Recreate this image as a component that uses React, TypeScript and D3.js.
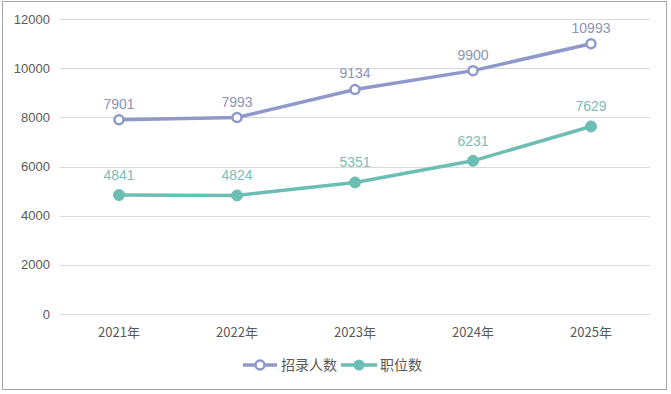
import React from "react";
import * as d3 from "d3";

const categories = ["2021年", "2022年", "2023年", "2024年", "2025年"];
const recruitCount = [7901, 7993, 9134, 9900, 10993];
const positionCount = [4841, 4824, 5351, 6231, 7629];
const yTicks = [0, 2000, 4000, 6000, 8000, 10000, 12000];
const seriesNames = ["招录人数", "职位数"];

const W = 671;
const H = 394;
const FONT = "'Liberation Sans', 'Noto Sans CJK SC', sans-serif";
const CJK = "'Noto Sans CJK SC', 'Liberation Sans', sans-serif";

export default function App() {
  const x = d3.scaleBand<string>().domain(categories).range([60, 650]);
  const y = d3.scaleLinear().domain([0, 12000]).range([314, 19]);
  const cx = (c: string) => (x(c) as number) + x.bandwidth() / 2;
  const line = d3
    .line<number>()
    .x((_, i) => cx(categories[i]))
    .y((v) => y(v));

  const purple = "#8e98c9";
  const teal = "#6cbdb3";
  const purpleLabel = "#8d93b3";
  const tealLabel = "#7bbcb6";

  return (
    <svg
      width={W}
      height={H}
      style={{ position: "absolute", left: 0, top: 0, background: "#fff" }}
    >
      <rect x={2.5} y={1.5} width={664} height={388} fill="#fff" stroke="#a6a6a6" strokeWidth={1} />
      {yTicks.map((t) => (
        <g key={t}>
          <line x1={60} x2={650} y1={Math.round(y(t)) + 0.5} y2={Math.round(y(t)) + 0.5} stroke="#d9d9d9" strokeWidth={1} />
          <text x={50} y={y(t) + 4.5} textAnchor="end" fontFamily={FONT} fontSize={13} fill="#595959">
            {t}
          </text>
        </g>
      ))}
      {categories.map((c) => (
        <text key={c} x={cx(c)} y={337} textAnchor="middle" fontFamily={CJK} fontSize={13} fill="#595959">
          {c}
        </text>
      ))}
      <path d={line(recruitCount) || ""} fill="none" stroke={purple} strokeWidth={3.5} strokeLinejoin="round" />
      <path d={line(positionCount) || ""} fill="none" stroke={teal} strokeWidth={3.5} strokeLinejoin="round" />
      {recruitCount.map((v, i) => (
        <g key={"r" + i}>
          <circle cx={cx(categories[i])} cy={y(v)} r={4.5} fill="#fff" stroke={purple} strokeWidth={2.5} />
          <text x={cx(categories[i])} y={y(v) - 11} textAnchor="middle" fontFamily={FONT} fontSize={14} fill={purpleLabel}>
            {v}
          </text>
        </g>
      ))}
      {positionCount.map((v, i) => (
        <g key={"p" + i}>
          <circle cx={cx(categories[i])} cy={y(v)} r={5.5} fill={teal} stroke={teal} strokeWidth={1} />
          <text x={cx(categories[i])} y={y(v) - 15} textAnchor="middle" fontFamily={FONT} fontSize={14} fill={tealLabel}>
            {v}
          </text>
        </g>
      ))}
      {/* legend */}
      <g>
        <line x1={243} x2={277} y1={365} y2={365} stroke={purple} strokeWidth={3.5} />
        <circle cx={260} cy={365} r={4.5} fill="#fff" stroke={purple} strokeWidth={2.5} />
        <text x={281} y={370} fontFamily={CJK} fontSize={14} fill="#595959">
          {seriesNames[0]}
        </text>
        <line x1={341} x2={377} y1={365} y2={365} stroke={teal} strokeWidth={3.5} />
        <circle cx={359} cy={365} r={5.5} fill={teal} />
        <text x={380} y={370} fontFamily={CJK} fontSize={14} fill="#595959">
          {seriesNames[1]}
        </text>
      </g>
    </svg>
  );
}
